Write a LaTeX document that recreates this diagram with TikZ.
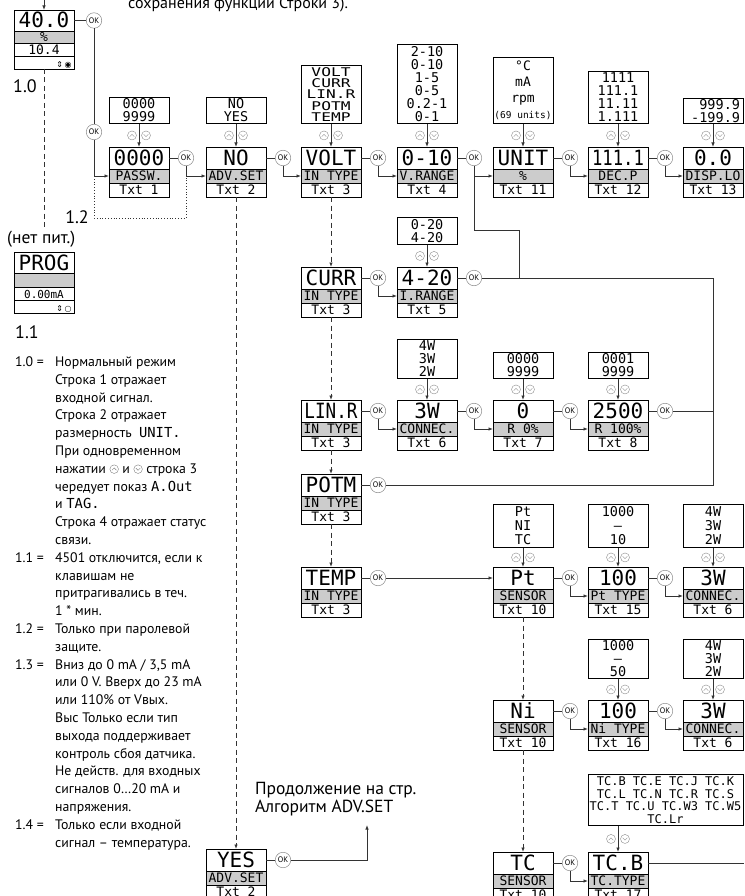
\documentclass[tikz,border=0pt]{standalone}
\usepackage{fontspec}
\setmainfont{PT Sans}
\newfontfamily\lcd{DejaVu Sans Mono}
\newfontfamily\lcdwide[FakeStretch=1.35]{DejaVu Sans Mono}
\newfontfamily\symf{DejaVu Sans}
\usepackage{graphicx}
\usetikzlibrary{arrows.meta,positioning,calc}

\newcommand{\lcdbig}{\lcd\fontsize{21}{21}\selectfont}
\newcommand{\lcdlab}{\lcd\fontsize{13}{13}\selectfont}
\newcommand{\lcdsel}{\lcd\fontsize{13.5}{13}\selectfont}
\newcommand{\notefont}{\fontsize{13.8}{17}\selectfont}

% display: name, x centre, y top, value, parameter, text number
\newcommand{\disp}[6]{%
  \node[mainrow] (#1) at (#2,#3) {#4};
  \node[grayrow, below=0pt of #1] (#1-l) {#5};
  \node[txtrow, below=0pt of #1-l] (#1-t) {#6};
}
% list of choices above a display
\newcommand{\sel}[6][]{%
  \node[selbox, minimum height=#5pt, #1] (#2) at (#3,#4) {#6};
}
\newcommand{\kup}{\tikz[baseline=-0.6ex]{\draw[black!50, line width=0.4pt] (0pt,0pt) circle (4.3pt) (-2.2pt,-1pt) -- (0pt,1.2pt) -- (2.2pt,-1pt);}}
\newcommand{\kdn}{\tikz[baseline=-0.6ex]{\draw[black!50, line width=0.4pt] (0pt,0pt) circle (4.3pt) (-2.2pt,1pt) -- (0pt,-1.2pt) -- (2.2pt,1pt);}}

\tikzset{
  updown/.pic={
    \draw[black!45, line width=0.4pt, fill=white] (-7,0) circle (4.5) (7,0) circle (4.5);
    \draw[black!45, line width=0.4pt] (-9.3,1.2) -- (-7,-1.1) -- (-4.7,1.2) (4.7,-1.2) -- (7,1.1) -- (9.3,-1.2);
  }
}

\begin{document}
\begin{tikzpicture}[x=1pt, y=-1pt,
  mainrow/.style={draw, line width=0.9pt, fill=white, anchor=north, minimum width=60pt, minimum height=22pt, inner sep=0pt, outer sep=0pt, font=\lcdbig, text height=15pt, text depth=0pt},
  grayrow/.style={draw, line width=0.9pt, fill=black!20, minimum width=60pt, minimum height=14pt, inner sep=0pt, outer sep=0pt, font=\lcdlab, text height=9.5pt, text depth=0pt},
  txtrow/.style={grayrow, fill=white},
  selbox/.style={draw, line width=0.9pt, fill=white, anchor=north, minimum width=60pt, inner sep=1pt, align=center, font=\lcdsel},
  okbtn/.style={circle, draw=black!45, fill=white, line width=0.5pt, minimum size=15.5pt, inner sep=0pt, font=\fontsize{8}{8}\selectfont},
  wire/.style={draw=black!80, line width=0.8pt},
  arr/.style={wire, -{Latex[length=4.5pt,width=3.5pt]}},
  flow/.style={arr, dash pattern=on 5pt off 3.5pt},
  note/.style={font=\notefont, anchor=base west, inner sep=0pt},
  numlbl/.style={font=\fontsize{18}{18}\selectfont, inner sep=0pt}
]
  % page is 744 x 896, y runs downwards
  \useasboundingbox (0,0) rectangle (744,896);
  \clip (0,0) rectangle (744,896);

  \node[note, font=\fontsize{16}{16}\selectfont] (hdr) at (128,9) {сохранения функции Строки 3).};

  % normal mode and power-off displays
  \node[mainrow, minimum height=21pt] (st) at (44,10) {40.0};
  \node[grayrow, minimum height=12pt, below=0pt of st] (st-l) {\%};
  \node[txtrow, minimum height=13pt, below=0pt of st-l] (st-t) {10.4};
  \node[txtrow, minimum height=13pt, below=0pt of st-t, text width=55pt, align=right, font=\symf\fontsize{8}{8}\selectfont] (st-i) {⇕\,◉};
  \node[mainrow, minimum height=21pt] (prog) at (44,252) {PROG};
  \node[grayrow, below=0pt of prog] (prog-l) {};
  \node[txtrow, minimum height=13pt, below=0pt of prog-l, font=\lcd\fontsize{11}{11}\selectfont] (prog-t) {0.00mA};
  \node[txtrow, minimum height=13pt, below=0pt of prog-t, text width=55pt, align=right, font=\symf\fontsize{8}{8}\selectfont] (prog-i) {⇕\,○};
  \node[numlbl, anchor=base west] (l10) at (13,93) {1.0};
  \node[font=\fontsize{17.5}{17.5}\selectfont, anchor=base west, inner sep=0pt] (nopow) at (7,243) {(нет пит.)};
  \node[numlbl, anchor=base west] (l11) at (15,338) {1.1};

  % displays
  \disp{pw}{139}{147}{0000}{PASSW.}{Txt 1}
  \disp{adv}{236}{147}{NO}{ADV.SET}{Txt 2}
  \disp{volt}{331}{147}{VOLT}{IN TYPE}{Txt 3}
  \disp{vrange}{427}{147}{0-10}{V.RANGE}{Txt 4}
  \disp{unit}{523}{147}{UNIT}{\%}{Txt 11}
  \disp{decp}{618}{147}{\scalebox{0.82}[1]{111.1}}{DEC.P}{Txt 12}
  \disp{displo}{713}{147}{0.0}{DISP.LO}{Txt 13}
  \disp{curr}{331}{267}{CURR}{IN TYPE}{Txt 3}
  \disp{ir}{427}{267}{4-20}{I.RANGE}{Txt 5}
  \disp{linr}{331}{400}{\scalebox{0.84}[1]{LIN.R}}{IN TYPE}{Txt 3}
  \disp{con}{427}{400}{3W}{CONNEC.}{Txt 6}
  \disp{r0}{523}{400}{0}{R 0\%}{Txt 7}
  \disp{r100}{618}{400}{2500}{R 100\%}{Txt 8}
  \disp{potm}{331}{474}{POTM}{IN TYPE}{Txt 3}
  \disp{temp}{331}{567}{TEMP}{IN TYPE}{Txt 3}
  \disp{pt}{523}{567}{Pt}{SENSOR}{Txt 10}
  \disp{ptt}{618}{567}{100}{Pt TYPE}{Txt 15}
  \disp{ptw}{713}{567}{3W}{CONNEC.}{Txt 6}
  \disp{ni}{523}{700}{Ni}{SENSOR}{Txt 10}
  \disp{nit}{618}{700}{100}{Ni TYPE}{Txt 16}
  \disp{niw}{713}{700}{3W}{CONNEC.}{Txt 6}
  \disp{tc}{523}{852}{TC}{SENSOR}{Txt 10}
  \disp{tcb}{618}{852}{TC.B}{TC.TYPE}{Txt 17}
  \disp{yes}{236}{849}{YES}{ADV.SET}{Txt 2}

  % choice lists
  \sel{pw-s}{139}{97}{26}{0000\\9999}
  \sel{adv-s}{236}{97}{26}{NO\\YES}
  \sel[font=\lcdwide\fontsize{12}{11.3}\selectfont]{volt-s}{331}{65}{58}{VOLT\\CURR\\LIN.R\\POTM\\TEMP}
  \sel{vrange-s}{427}{44}{79}{2-10\\0-10\\1-5\\0-5\\0.2-1\\0-1}
  \sel[font=\lcd\fontsize{13}{16}\selectfont]{unit-s}{523}{57}{66}{°C\\mA\\rpm\\{\fontsize{9.5}{16}\selectfont(69 units)}}
  \sel{decp-s}{618}{71}{52}{1111\\111.1\\11.11\\1.111}
  \sel[align=right, text width=54pt]{displo-s}{713}{98}{25}{999.9\\-199.9}
  \sel{ir-s}{427}{217}{27}{0-20\\4-20}
  \sel{con-s}{427}{339}{39}{4W\\3W\\2W}
  \sel{r0-s}{523}{352}{26}{0000\\9999}
  \sel{r100-s}{618}{352}{26}{0001\\9999}
  \sel[font=\lcd\fontsize{13.5}{14}\selectfont]{pt-s}{523}{504}{43}{Pt\\NI\\TC}
  \sel[font=\lcd\fontsize{13.5}{14}\selectfont]{ptt-s}{618}{504}{43}{1000\\–\\10}
  \sel[font=\lcd\fontsize{13.5}{14}\selectfont]{ptw-s}{713}{504}{43}{4W\\3W\\2W}
  \sel{nit-s}{618}{639}{39}{1000\\–\\50}
  \sel{niw-s}{713}{639}{39}{4W\\3W\\2W}
  \sel[minimum width=155pt, font=\lcd\fontsize{12}{12.5}\selectfont]{tcb-s}{665.5}{774}{51}{TC.B TC.E TC.J TC.K\\TC.L TC.N TC.R TC.S\\TC.T TC.U TC.W3 TC.W5\\TC.Lr}

  \foreach \b in {pw,adv,volt,vrange,unit,decp,displo,ir,con,r0,r100,pt,ptt,ptw,nit,niw,tcb}{
    \draw[arr] (\b-s.south -| \b.north) -- (\b.north);
    \pic at ($(\b-s.south -| \b.north)!0.5!(\b.north)$) {updown};
  }

  % OK steps
  \foreach \a/\b in {pw/adv, adv/volt, volt/vrange, unit/decp, decp/displo, curr/ir, linr/con, con/r0, r0/r100, pt/ptt, ptt/ptw, ni/nit, nit/niw, tc/tcb}{
    \node[okbtn] (\a-ok) at ($(\a.east)+(17,0)$) {OK};
    \draw[wire] (\a.east) -- (\a-ok);
    \draw[arr] (\a-ok.south) |- (\b-l.west);
  }
  \foreach \a in {vrange, ir, r100, potm, temp, yes}{
    \node[okbtn] (\a-ok) at ($(\a.east)+(17,0)$) {OK};
    \draw[wire] (\a.east) -- (\a-ok);
  }
  \node[okbtn] (st-ok) at ($(st.east)+(20,0)$) {OK};
  \node[okbtn] (st-ok2) at (94,132) {OK};
  \draw[wire] (st.east) -- (st-ok);
  \draw[wire] (st-ok) -- (st-ok2);
  \draw[arr] (st-ok2.south) |- (pw-l.west);
  \coordinate (bypass) at (0,218);
  \draw[wire, dotted] (st-ok2 |- pw-l.west) -- (st-ok2 |- bypass) -| (pw-ok.south |- pw-l.west);
  \node[numlbl, anchor=base east] (l12) at (89,223) {1.2};

  \coordinate (kink) at (519,230);
  \coordinate (bus) at (713,0);
  \draw[arr] (vrange-ok.south) |- (unit-l.west);
  \draw[wire] (vrange-ok.south) |- (kink) -- (kink |- ir-ok.east);
  \draw[wire] (ir-ok.east) -- (ir-ok.east -| bus) -- (potm-ok.east -| bus) -- (potm-ok.east);
  \draw[wire] (r100-ok.east) -- (r100-ok.east -| bus);
  \draw[arr] (temp-ok.east) -- (pt.west);
  \coordinate (contin) at (367,825);
  \draw[arr] (yes-ok.east) -| (contin);
  \coordinate (edge) at (744,0);
  \draw[wire] (tcb.east) -- (tcb.east -| edge);

  % scrolling with arrow keys
  \foreach \a/\b in {volt/curr, curr/linr, linr/potm, potm/temp, adv/yes, pt/ni, ni/tc}
    \draw[flow] (\a-t.south) -- (\b.north);
  \coordinate (st-in) at (44,0);
  \coordinate (st-end) at (44,228);
  \draw[arr] (st-in) -- (st.north);
  \draw[wire, dash pattern=on 5pt off 3.5pt] (st-i.south) -- (st-end);

  \node[font=\fontsize{17.5}{18}\selectfont, align=left, anchor=north west, inner sep=0pt] (cont) at (255,782) {Продолжение на стр.\\Алгоритм ADV.SET};

  % notes
  \foreach \k/\i in {1.0/0, 1.1/11, 1.2/15, 1.3/17, 1.4/26}
    \node[note] (key\i) at (15,366.5+17.8*\i) {\k\ =};
  \foreach \t [count=\i from 0] in {{Нормальный режим}, {Строка 1 отражает}, {входной сигнал.}, {Строка 2 отражает}, {размерность \ {\lcd UNIT.}}, {При одновременном}, {нажатии \kup{} и \kdn{} строка 3}, {чередует показ {\lcd A.Out}}, {и {\lcd TAG.}}, {Строка 4 отражает статус}, {связи.}, {4501 отключится, если к}, {клавишам не}, {притрагивались в теч.}, {1 * мин.}, {Только при паролевой}, {защите.}, {Вниз до 0 mA / 3,5 mA}, {или 0 V. Вверх до 23 mA}, {или 110\% от Vвых.}, {Выс Только если тип}, {выхода поддерживает}, {контроль сбоя датчика.}, {Не действ. для входных}, {сигналов 0…20 mA и}, {напряжения.}, {Только если входной}, {сигнал – температура.}}
    \node[note] (ln\i) at (55,366.5+17.8*\i) {\t};
\end{tikzpicture}
\end{document}
